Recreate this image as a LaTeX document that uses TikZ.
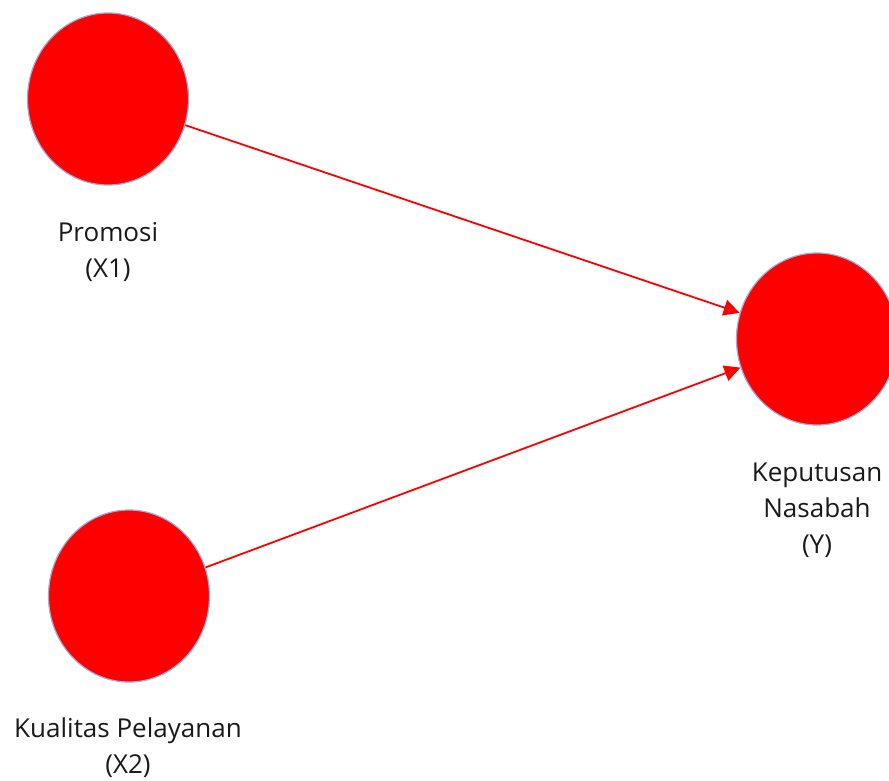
\documentclass[tikz,border=0pt]{standalone}
\usepackage{fontspec}
\setmainfont{Open Sans}
\usetikzlibrary{arrows.meta,shapes.geometric}
\definecolor{latentred}{RGB}{255,0,0}
\definecolor{latentrim}{RGB}{150,175,220}
\definecolor{labelgray}{RGB}{25,25,25}
\begin{document}
\begin{tikzpicture}[x=1pt,y=-1pt,construct/.style={ellipse,draw=latentrim,line width=1.2pt,fill=latentred,minimum width=161pt,minimum height=172pt,inner sep=0pt},path/.style={draw=latentred,line width=1.8pt,-{Triangle[length=16pt,width=16pt]}},caption/.style={anchor=north,inner sep=0pt,align=center,text=labelgray,font=\fontsize{26}{36}\selectfont}]
\useasboundingbox (0,0) rectangle (889,780);
\coordinate (X1) at (108,99);
\coordinate (X2) at (129,596);
\coordinate (Y) at (817,339);
\begin{scope}
\clip (0,0) rectangle (889,780);
\node[construct] (promosi) at (X1) {};
\node[construct] (kualitas) at (X2) {};
\node[construct] (keputusan) at (Y) {};
\end{scope}
\draw[path] (promosi) -- (keputusan);
\draw[path] (kualitas) -- (keputusan);
\node[caption] (promosilabel) at (108,222) {Promosi\\(X1)};
\node[caption] (kualitaslabel) at (128,718) {Kualitas Pelayanan\\(X2)};
\node[caption] (keputusanlabel) at (817,463) {Keputusan\\Nasabah\\(Y)};
\end{tikzpicture}
\end{document}
